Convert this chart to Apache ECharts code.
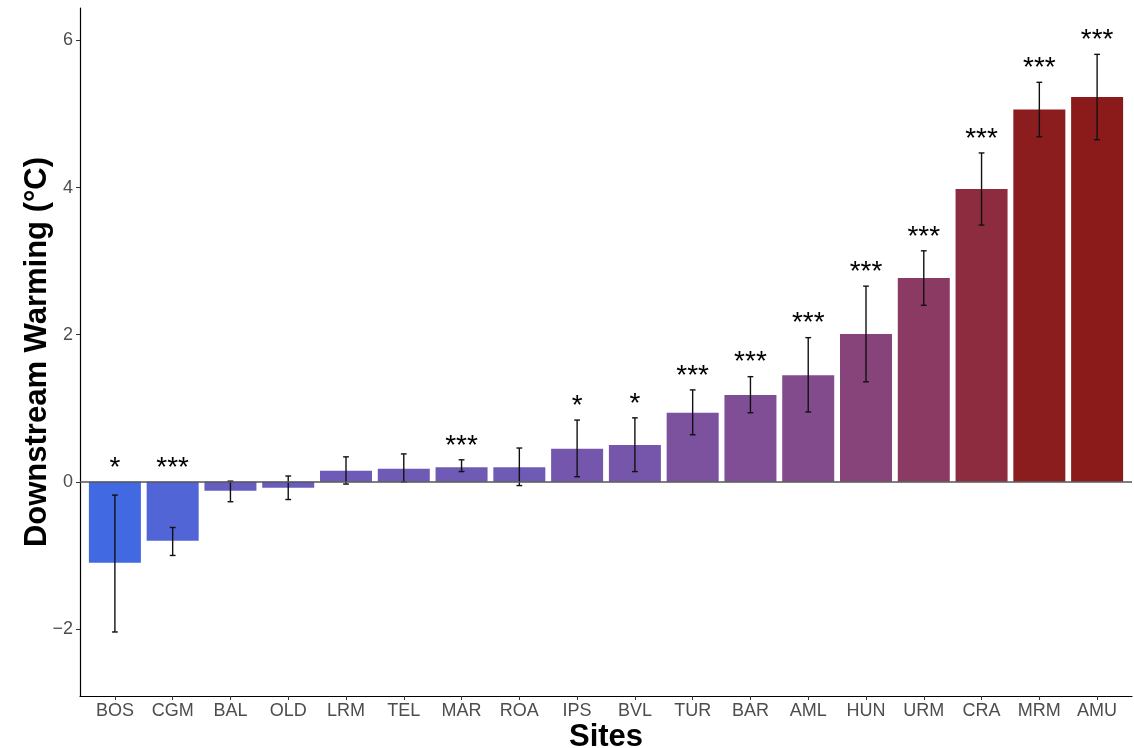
<!DOCTYPE html>
<html>
<head>
<meta charset="utf-8">
<script src="https://cdn.jsdelivr.net/npm/echarts@6/dist/echarts.min.js"></script>
<style>
html,body{margin:0;padding:0;background:#fff;}
#chart{width:1134px;height:748px;}
</style>
</head>
<body>
<div id="chart"></div>
<script>
const sites = ['BOS','CGM','BAL','OLD','LRM','TEL','MAR','ROA','IPS','BVL','TUR','BAR','AML','HUN','URM','CRA','MRM','AMU'];
const warming = [-1.10,-0.80,-0.12,-0.08,0.15,0.18,0.20,0.20,0.45,0.50,0.94,1.18,1.45,2.01,2.77,3.98,5.06,5.23];
const lower = [-2.04,-1.00,-0.27,-0.24,-0.03,0.00,0.14,-0.05,0.07,0.14,0.64,0.94,0.95,1.36,2.40,3.49,4.69,4.65];
const upper = [-0.18,-0.62,0.01,0.08,0.34,0.38,0.30,0.46,0.84,0.87,1.25,1.43,1.96,2.66,3.14,4.47,5.43,5.81];
const signif = ['*','***','','','','','***','','*','*','***','***','***','***','***','***','***','***'];
const yTicks = [-2,0,2,4,6];

const LOW = '#4169E1', HIGH = '#8B1A1A';
// CIELAB interpolation (like ggplot's scale_fill_gradient)
function hexToRgb(h){return [1,3,5].map(i=>parseInt(h.substr(i,2),16)/255);}
function lin(c){return c<=0.04045?c/12.92:Math.pow((c+0.055)/1.055,2.4);}
function delin(c){return c<=0.0031308?12.92*c:1.055*Math.pow(c,1/2.4)-0.055;}
const WP=[0.95047,1,1.08883];
function f(t){return t>216/24389?Math.cbrt(t):(24389/27*t+16)/116;}
function finv(t){return t*t*t>216/24389?t*t*t:(116*t-16)/(24389/27);}
function toLab(h){const [r,g,b]=hexToRgb(h).map(lin);
 const X=0.4124*r+0.3576*g+0.1805*b, Y=0.2126*r+0.7152*g+0.0722*b, Z=0.0193*r+0.1192*g+0.9505*b;
 const fx=f(X/WP[0]),fy=f(Y/WP[1]),fz=f(Z/WP[2]);return [116*fy-16,500*(fx-fy),200*(fy-fz)];}
function fromLab(L,a,b){const fy=(L+16)/116,fx=fy+a/500,fz=fy-b/200;
 const X=WP[0]*finv(fx),Y=WP[1]*finv(fy),Z=WP[2]*finv(fz);
 let r=3.2406*X-1.5372*Y-0.4986*Z,g=-0.9689*X+1.8758*Y+0.0415*Z,bb=0.0557*X-0.2040*Y+1.0570*Z;
 return '#'+[r,g,bb].map(c=>{let v=Math.round(Math.max(0,Math.min(1,delin(c)))*255);return v.toString(16).padStart(2,'0');}).join('');}
const labLo=toLab(LOW), labHi=toLab(HIGH);
const vmin=Math.min(...warming), vmax=Math.max(...warming);
function colorFor(v){const t=(v-vmin)/(vmax-vmin);return fromLab(...[0,1,2].map(k=>labLo[k]+(labHi[k]-labLo[k])*t));}

const YMIN=-2.91, YMAX=6.44;
const chart = echarts.init(document.getElementById('chart'), null, {renderer:'canvas'});
const textFont = 'Liberation Sans, Arial, sans-serif';

chart.setOption({
  animation:false,
  backgroundColor:'#fff',
  grid:[
    {left:86, right:8, top:8, bottom:52, outerBoundsMode:'none', containLabel:false},
    {left:80, right:2, top:8, bottom:52, outerBoundsMode:'none', containLabel:false}
  ],
  xAxis:[
    {type:'category', gridIndex:0, data:sites,
     axisLine:{show:false, onZero:false},
     axisTick:{show:true, alignWithLabel:true, length:4, lineStyle:{color:'#333',width:1}},
     axisLabel:{color:'#4D4D4D', fontSize:18, fontFamily:textFont, margin:6},
     name:'Sites', nameLocation:'middle', nameGap:26, nameMoveOverlap:false,
     nameTextStyle:{color:'#000', fontSize:31, fontWeight:'bold', fontFamily:textFont}},
    {type:'value', gridIndex:1, min:0, max:1,
     axisLine:{show:true, onZero:false, lineStyle:{color:'#000', width:1.2}},
     axisTick:{show:false}, axisLabel:{show:false}, splitLine:{show:false}}
  ],
  yAxis:[
    {type:'value', gridIndex:0, min:YMIN, max:YMAX,
     axisLine:{show:false}, axisTick:{show:false}, axisLabel:{show:false}, splitLine:{show:false}},
    {type:'value', gridIndex:1, min:YMIN, max:YMAX,
     axisLine:{show:true, onZero:false, lineStyle:{color:'#000', width:1.2}},
     axisTick:{show:true, length:4, lineStyle:{color:'#333'}, customValues:yTicks},
     axisLabel:{color:'#4D4D4D', fontSize:18, fontFamily:textFont, margin:7, customValues:yTicks,
       formatter:v=>v<0?('\u2212'+Math.abs(v)):String(v)},
     splitLine:{show:false},
     name:'Downstream Warming (\u00B0C)', nameLocation:'middle', nameGap:27, nameRotate:90, nameMoveOverlap:false,
     nameTextStyle:{color:'#000', fontSize:31, fontWeight:'bold', fontFamily:textFont}}
  ],
  series:[
    {type:'bar', xAxisIndex:0, yAxisIndex:0, barWidth:'90%',
     data:warming.map(v=>({value:v, itemStyle:{color:colorFor(v)}})), z:2},
    {type:'line', xAxisIndex:1, yAxisIndex:1, data:[[0.5,0]], symbol:'none', lineStyle:{opacity:0}, z:3,
     silent:true,
     markLine:{silent:true, symbol:'none', label:{show:false},
       lineStyle:{color:'#555', width:1.5, type:'solid'}, data:[{yAxis:0}]}},
    {type:'custom', xAxisIndex:0, yAxisIndex:0, z:4,
     data:sites.map((s,i)=>[i, lower[i], upper[i]]),
     renderItem:function(params, api){
       const i=api.value(0), lo=api.value(1), hi=api.value(2);
       const pLo=api.coord([i,lo]), pHi=api.coord([i,hi]);
       const half=api.size([1,0])[0]*0.05;
       const st={stroke:'#111', lineWidth:1.4};
       const top=api.coord([i, Math.max(hi,0)]);
       const children=[
         {type:'line', shape:{x1:pLo[0],y1:pLo[1],x2:pHi[0],y2:pHi[1]}, style:st},
         {type:'line', shape:{x1:pLo[0]-half,y1:pLo[1],x2:pLo[0]+half,y2:pLo[1]}, style:st},
         {type:'line', shape:{x1:pHi[0]-half,y1:pHi[1],x2:pHi[0]+half,y2:pHi[1]}, style:st}
       ];
       const lab=signif[params.dataIndex];
       if(lab){children.push({type:'text', style:{text:lab, x:top[0], y:top[1]-14, align:'center', verticalAlign:'middle',
         fill:'#000', font:'28px '+textFont}});}
       return {type:'group', children:children};
     }}
  ]
});
</script>
</body>
</html>
